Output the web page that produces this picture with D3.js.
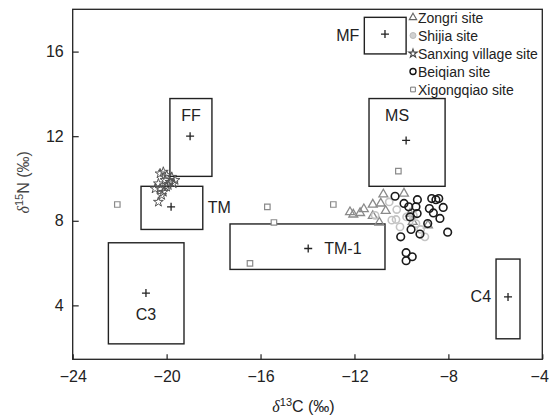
<!DOCTYPE html>
<html>
<head>
<meta charset="utf-8">
<script src="https://cdn.jsdelivr.net/npm/d3@7"></script>
<style>
  body { margin: 0; background: #fff; }
  svg { font-family: "Liberation Sans", Arial, sans-serif; }
</style>
</head>
<body>
<svg id="chart" width="549" height="418"></svg>
<script>
// d13C / d15N values
const xTicks = [-24, -20, -16, -12, -8, -4];
const yTicks = [4, 8, 12, 16];

// reference boxes: [name, x0, x1, y0, y1, meanX, meanY]
const boxes = [
  ['MF',   -11.58, -9.80, 15.89, 17.62, -10.70, 16.83],
  ['MS',   -11.38, -8.14,  9.63, 13.78,  -9.80, 11.80],
  ['FF',   -19.86, -18.07, 10.10, 13.78, -19.00, 12.00],
  ['TM',   -21.09, -18.46,  7.59,  9.63, -19.81,  8.66],
  ['TM-1', -17.30, -10.70,  5.70,  7.85, -13.97,  6.69],
  ['C3',   -22.48, -19.26,  2.18,  6.96, -20.88,  4.58],
  ['C4',    -5.97,  -4.95,  2.42,  6.19,  -5.46,  4.40]
];

const zongri = [
  [-10.77, 9.25], [-9.89, 9.29], [-11.22, 8.77], [-10.88, 8.82], [-10.67, 8.47],
  [-12.19, 8.41], [-11.76, 8.37], [-11.22, 8.23], [-10.94, 7.92], [-9.63, 8.34],
  [-9.52, 7.95], [-8.87, 7.79], [-12.05, 8.30], [-11.60, 8.55]
];
const shijia = [
  [-10.52, 8.89], [-10.20, 8.53], [-10.41, 8.03], [-10.06, 7.71], [-9.78, 8.18],
  [-9.49, 8.26], [-9.38, 7.87], [-9.18, 7.59], [-9.00, 7.24], [-10.23, 8.06],
  [-11.12, 8.26]
];
const sanxing = [
  [-20.28, 10.23], [-20.14, 10.31], [-20.00, 10.15], [-19.78, 10.07], [-19.64, 9.92],
  [-19.86, 9.83], [-20.07, 9.92], [-20.35, 9.76], [-20.49, 9.52], [-20.28, 9.52],
  [-20.14, 9.36], [-20.00, 9.60], [-19.72, 9.76], [-20.21, 9.21], [-20.35, 8.89],
  [-19.93, 9.68]
];
const beiqian = [
  [-10.27, 9.16], [-9.89, 8.82], [-9.69, 8.66], [-9.32, 9.00], [-9.38, 8.66],
  [-8.71, 9.05], [-8.53, 9.00], [-8.41, 9.05], [-8.81, 8.58], [-8.22, 8.63],
  [-8.64, 8.37], [-8.36, 8.11], [-9.33, 8.34], [-8.88, 7.87], [-9.59, 7.59],
  [-9.21, 7.37], [-10.03, 7.24], [-8.03, 7.46], [-9.80, 6.49], [-9.54, 6.30],
  [-9.80, 6.11], [-9.63, 8.18]
];
const xigongqiao = [
  [-22.10, 8.77], [-15.71, 8.66], [-12.90, 8.77], [-15.43, 7.92], [-16.45, 5.99],
  [-10.13, 10.35]
];

const sites = ['Zongri site', 'Shijia site', 'Sanxing village site', 'Beiqian site', 'Xigongqiao site'];

const svg = d3.select('#chart');
const margin = {left: 72.7, right: 6.7, top: 9.3, bottom: 58.7};
const W = 549, H = 418;

const x = d3.scaleLinear().domain([-24, -4]).range([margin.left, W - margin.right]);
const y = d3.scaleLinear().domain([1.45, 18]).range([H - margin.bottom, margin.top]);

const ink = '#222';

// frame
svg.append('rect')
  .attr('x', x(-24)).attr('y', y(18))
  .attr('width', x(-4) - x(-24)).attr('height', y(1.45) - y(18))
  .attr('fill', 'none').attr('stroke', ink).attr('stroke-width', 1.3);

// axes, ticks pointing inward
const xAxis = svg.append('g')
  .attr('transform', `translate(0,${y(1.45)})`)
  .call(d3.axisBottom(x).tickValues(xTicks).tickSizeInner(-5).tickSizeOuter(0)
    .tickPadding(11).tickFormat(d3.format('d')));
const yAxis = svg.append('g')
  .attr('transform', `translate(${x(-24)},0)`)
  .call(d3.axisLeft(y).tickValues(yTicks).tickSizeInner(-6).tickSizeOuter(0)
    .tickPadding(9).tickFormat(d3.format('d')));
[xAxis, yAxis].forEach(function(g) {
  g.select('.domain').remove();
  g.selectAll('line').attr('stroke', ink).attr('stroke-width', 1.2);
  g.selectAll('text').attr('fill', ink).style('font-size', '16px')
    .style('font-family', '"Liberation Sans", Arial, sans-serif');
});
// last label would run off the page, pin it to the edge
xAxis.selectAll('.tick text').filter(d => d === -4)
  .attr('text-anchor', 'end').attr('x', 6);

// axis titles
const xt = svg.append('text')
  .attr('x', (x(-24) + x(-4)) / 2 - 4).attr('y', 412)
  .attr('text-anchor', 'middle').attr('fill', ink).style('font-size', '16px');
xt.append('tspan').attr('font-family', '"Liberation Serif", serif').attr('font-style', 'italic').text('δ');
xt.append('tspan').attr('dy', -6).style('font-size', '11px').text('13');
xt.append('tspan').attr('dy', 6).text('C (‰)');

const yt = svg.append('text')
  .attr('transform', `translate(29,${(y(18) + y(1.45)) / 2 - 2}) rotate(-90)`)
  .attr('text-anchor', 'middle').attr('fill', '#444').style('font-size', '16px');
yt.append('tspan').attr('font-family', '"Liberation Serif", serif').attr('font-style', 'italic').text('δ');
yt.append('tspan').attr('dy', -6).style('font-size', '11px').text('15');
yt.append('tspan').attr('dy', 6).text('N (‰)');

// boxes with mean crosses
const boxG = svg.append('g');
boxG.selectAll('rect').data(boxes).enter().append('rect')
  .attr('x', d => x(d[1])).attr('y', d => y(d[4]))
  .attr('width', d => x(d[2]) - x(d[1])).attr('height', d => y(d[3]) - y(d[4]))
  .attr('fill', 'none').attr('stroke', ink).attr('stroke-width', 1.4);
boxG.selectAll('path').data(boxes).enter().append('path')
  .attr('d', function(d) {
    const cx = x(d[5]), cy = y(d[6]);
    return `M${cx - 4},${cy}H${cx + 4}M${cx},${cy - 4}V${cy + 4}`;
  })
  .attr('stroke', ink).attr('stroke-width', 1.3);

// where each box name sits
const labelPos = {
  'MF':   d => [x(d[1]) - 5, (y(d[3]) + y(d[4])) / 2, 'end'],
  'MS':   d => [(x(d[1]) + x(d[2])) / 2 - 10, y(d[4]) + 17, 'middle'],
  'FF':   d => [(x(d[1]) + x(d[2])) / 2, y(d[4]) + 17, 'middle'],
  'TM':   d => [x(d[2]) + 5, y(d[6]) + 1, 'start'],
  'TM-1': d => [x(d[5]) + 16, y(d[6]), 'start'],
  'C3':   d => [x(d[5]), y(d[6]) + 21, 'middle'],
  'C4':   d => [x(d[1]) - 5, y(d[6]), 'end']
};
boxG.selectAll('text').data(boxes).enter().append('text')
  .each(function(d) {
    const p = labelPos[d[0]](d);
    d3.select(this).attr('x', p[0]).attr('y', p[1]).attr('text-anchor', p[2]);
  })
  .attr('dominant-baseline', 'central')
  .attr('fill', ink).style('font-size', '16px')
  .text(d => d[0]);

// markers
const tri = d3.symbol().type(d3.symbolTriangle).size(34);
const star = d3.symbol().type(d3.symbolStar).size(30);
const sq = d3.symbol().type(d3.symbolSquare).size(30);

const pts = svg.append('g');
pts.selectAll('.zongri').data(zongri).enter().append('path')
  .attr('transform', d => `translate(${x(d[0])},${y(d[1])})`)
  .attr('d', tri).attr('fill', 'none').attr('stroke', '#8a8a8a').attr('stroke-width', 1.3);
pts.selectAll('.shijia').data(shijia).enter().append('circle')
  .attr('cx', d => x(d[0])).attr('cy', d => y(d[1])).attr('r', 3.6)
  .attr('fill', 'none').attr('stroke', '#c4c4c4').attr('stroke-width', 1.6);
pts.selectAll('.sanxing').data(sanxing).enter().append('path')
  .attr('transform', d => `translate(${x(d[0])},${y(d[1])})`)
  .attr('d', star).attr('fill', 'none').attr('stroke', '#555').attr('stroke-width', 1);
pts.selectAll('.beiqian').data(beiqian).enter().append('circle')
  .attr('cx', d => x(d[0])).attr('cy', d => y(d[1])).attr('r', 3.8)
  .attr('fill', 'none').attr('stroke', '#1a1a1a').attr('stroke-width', 1.6);
pts.selectAll('.xigong').data(xigongqiao).enter().append('path')
  .attr('transform', d => `translate(${x(d[0])},${y(d[1])})`)
  .attr('d', sq).attr('fill', '#fff').attr('stroke', '#8a8a8a').attr('stroke-width', 1.2);

// legend
const legend = svg.append('g').attr('transform', 'translate(413,17.5)');
const legItems = legend.selectAll('g').data(sites).enter().append('g')
  .attr('transform', (d, i) => `translate(0,${i * 18})`);
legItems.each(function(d, i) {
  const g = d3.select(this);
  if (i === 0) g.append('path').attr('d', d3.symbol().type(d3.symbolTriangle).size(24))
    .attr('fill', 'none').attr('stroke', '#666').attr('stroke-width', 1.1);
  if (i === 1) g.append('circle').attr('r', 3).attr('fill', '#d0d0d0').attr('stroke', '#bbb');
  if (i === 2) g.append('path').attr('d', d3.symbol().type(d3.symbolStar).size(22))
    .attr('fill', 'none').attr('stroke', '#444').attr('stroke-width', 1.1);
  if (i === 3) g.append('circle').attr('r', 3).attr('fill', 'none').attr('stroke', '#111').attr('stroke-width', 1.4);
  if (i === 4) g.append('path').attr('d', d3.symbol().type(d3.symbolSquare).size(22))
    .attr('fill', 'none').attr('stroke', '#777').attr('stroke-width', 1);
});
legItems.append('text')
  .attr('x', 5).attr('dominant-baseline', 'central')
  .attr('fill', ink).style('font-size', '14px')
  .text(d => d);
</script>
</body>
</html>
